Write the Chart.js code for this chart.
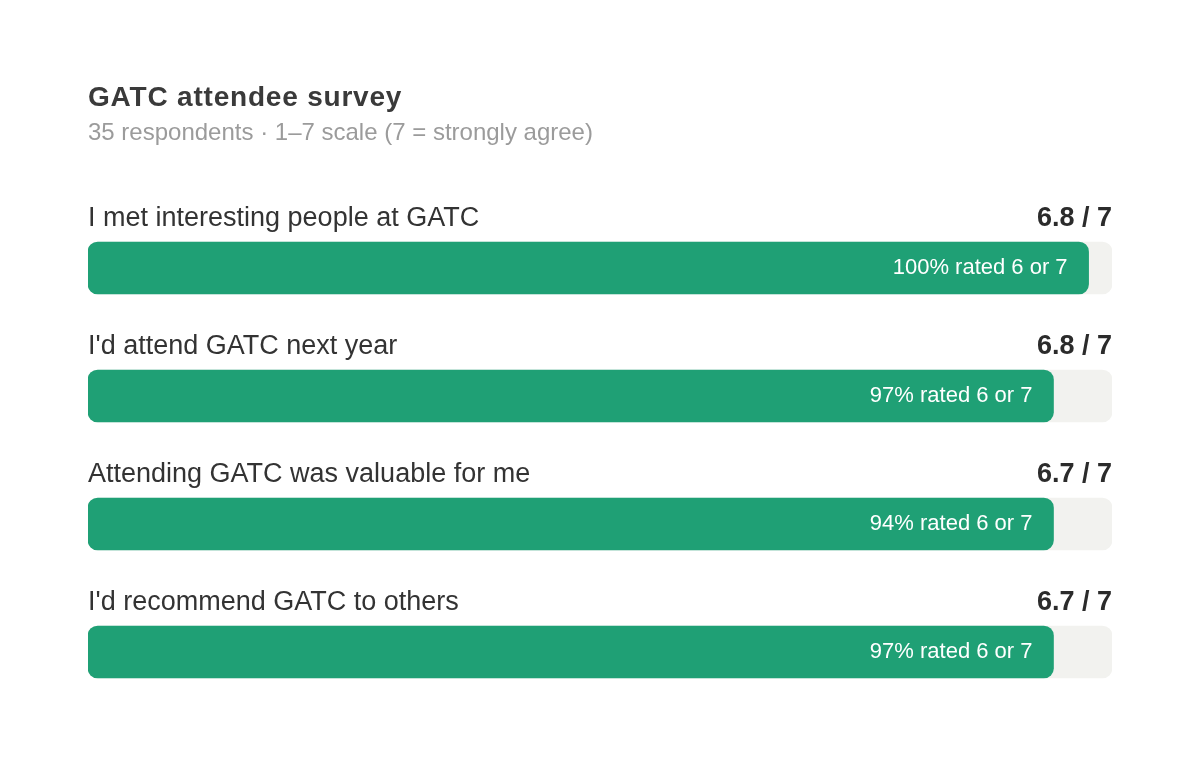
<!DOCTYPE html>
<html>
<head>
<meta charset="utf-8">
<script src="https://cdn.jsdelivr.net/npm/chart.js"></script>
<style>
  html, body { margin: 0; padding: 0; background: #ffffff; }
  #wrap { width: 1200px; height: 758px; }
</style>
</head>
<body>
<div id="wrap"><canvas id="surveyChart" width="1200" height="758"></canvas></div>
<script>
// survey statements, top to bottom
const statements = [
  'I met interesting people at GATC',
  "I'd attend GATC next year",
  'Attending GATC was valuable for me',
  "I'd recommend GATC to others"
];
const barValues = [6.84, 6.6, 6.6, 6.6];
const scaleMax = 7;
const scoreLabels = ['6.8 / 7', '6.8 / 7', '6.7 / 7', '6.7 / 7'];
const topBoxLabels = ['100% rated 6 or 7', '97% rated 6 or 7', '94% rated 6 or 7', '97% rated 6 or 7'];

const titleText = 'GATC attendee survey';
const subtitleText = '35 respondents \u00b7 1\u20137 scale (7 = strongly agree)';

const FONT = '"Liberation Sans", Arial, Helvetica, sans-serif';

// text above / inside each bar, plus the heading
const labelPlugin = {
  id: 'rowLabels',
  afterDatasetsDraw(chart) {
    const ctx = chart.ctx;
    const area = chart.chartArea;
    const bars = chart.getDatasetMeta(0).data;
    ctx.save();
    ctx.textBaseline = 'alphabetic';

    ctx.textAlign = 'left';
    ctx.fillStyle = '#3a3a3a';
    ctx.font = 'bold 28px ' + FONT;
    if ('letterSpacing' in ctx) ctx.letterSpacing = '0.8px';
    ctx.fillText(titleText, area.left, area.top - 98);
    if ('letterSpacing' in ctx) ctx.letterSpacing = '0px';
    ctx.fillStyle = '#9b9b9b';
    ctx.font = '24px ' + FONT;
    ctx.fillText(subtitleText, area.left, area.top - 64);

    bars.forEach((bar, i) => {
      const top = bar.y - bar.height / 2;
      ctx.textBaseline = 'alphabetic';
      ctx.textAlign = 'left';
      ctx.fillStyle = '#333333';
      ctx.font = '27px ' + FONT;
      ctx.fillText(statements[i], area.left, top - 16);

      ctx.textAlign = 'right';
      ctx.fillStyle = '#2b2b2b';
      ctx.font = 'bold 27px ' + FONT;
      ctx.fillText(scoreLabels[i], area.right, top - 16);

      ctx.textBaseline = 'middle';
      ctx.fillStyle = '#ffffff';
      ctx.font = '22px ' + FONT;
      ctx.fillText(topBoxLabels[i], bar.x - 21, bar.y);
    });
    ctx.restore();
  }
};

const ctx = document.getElementById('surveyChart').getContext('2d');
new Chart(ctx, {
  type: 'bar',
  data: {
    labels: statements,
    datasets: [
      {
        data: barValues,
        backgroundColor: '#1fa075',
        borderRadius: 10,
        borderSkipped: false,
        barThickness: 52,
        grouped: false,
        order: 1
      },
      {
        data: statements.map(() => scaleMax),
        backgroundColor: '#f2f2ef',
        borderRadius: 10,
        borderSkipped: false,
        barThickness: 52,
        grouped: false,
        order: 2
      }
    ]
  },
  options: {
    indexAxis: 'y',
    responsive: false,
    animation: false,
    devicePixelRatio: 1,
    layout: { padding: { left: 88, right: 88, top: 204, bottom: 42 } },
    plugins: {
      legend: { display: false },
      title: { display: false },
      tooltip: { enabled: false }
    },
    scales: {
      x: { display: false, min: 0, max: scaleMax },
      y: { display: false }
    }
  },
  plugins: [labelPlugin]
});
</script>
</body>
</html>
